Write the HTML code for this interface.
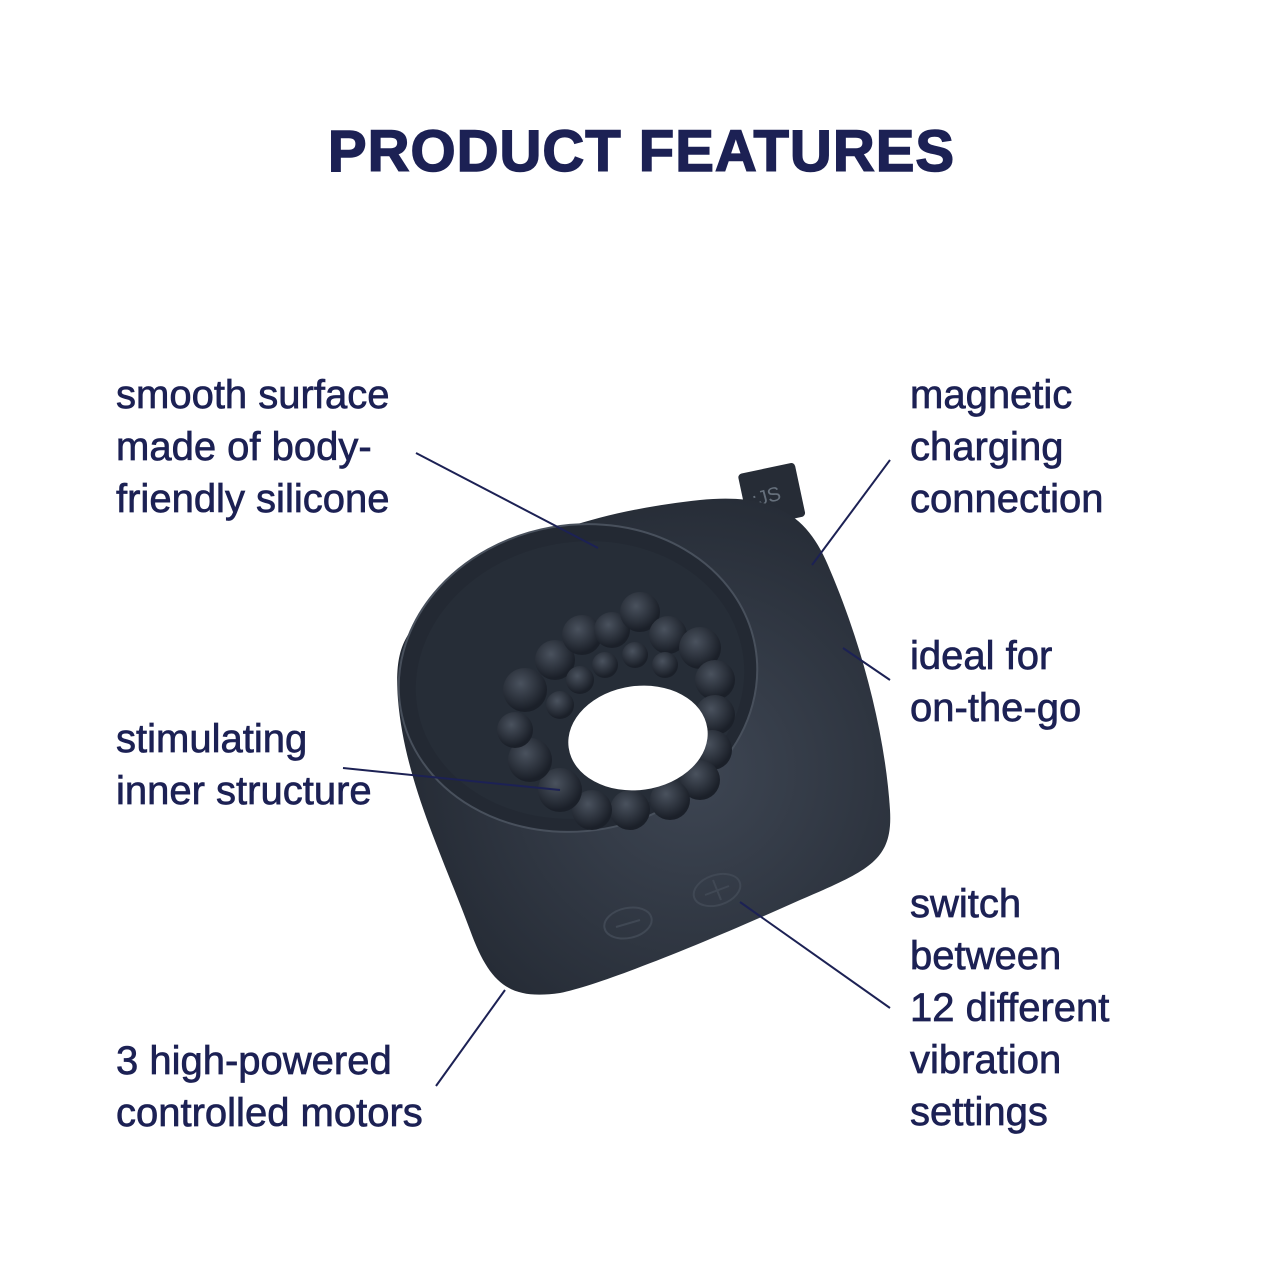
<!DOCTYPE html>
<html><head><meta charset="utf-8"><style>
html,body{margin:0;padding:0;background:#fff}
body{width:1276px;height:1276px;position:relative;overflow:hidden;font-family:"Liberation Sans",sans-serif;color:#1c2154}
h1{position:absolute;left:0;width:1283px;top:118px;margin:0;text-align:center;font-size:58px;font-weight:bold;letter-spacing:1px;-webkit-text-stroke:1.5px #1c2154}
.t{position:absolute;font-size:40px;line-height:52px;white-space:nowrap;-webkit-text-stroke:0.7px #1c2154}
svg{position:absolute;left:0;top:0}
</style></head><body>
<h1>PRODUCT FEATURES</h1>
<svg width="1276" height="1276">
<defs>
<radialGradient id="g" cx="0.6" cy="0.55" r="0.6"><stop offset="0" stop-color="#3e4653"/><stop offset="1" stop-color="#252b35"/></radialGradient>
<radialGradient id="b" cx="0.4" cy="0.35" r="0.6"><stop offset="0" stop-color="#4a525e"/><stop offset="1" stop-color="#1b2029"/></radialGradient>
</defs>
<g transform="rotate(-12 770 492)"><rect x="742" y="468" width="58" height="55" rx="4" fill="#262c36"/></g>
<text x="752" y="505" font-size="20" fill="#66707c" transform="rotate(-15 760 498)">:JS</text>
<path d="M420,620 C470,560 560,515 700,500 C780,492 810,520 830,570 C860,640 885,730 890,810 C893,860 870,870 800,900 C700,945 600,985 560,993 C510,1000 490,985 470,930 C440,850 405,780 398,700 C395,660 400,640 420,620 Z" fill="url(#g)"/>
<ellipse cx="578" cy="678" rx="180" ry="153" transform="rotate(-10 578 678)" fill="#232933" stroke="#48505c" stroke-width="2"/>
<ellipse cx="580" cy="680" rx="165" ry="138" transform="rotate(-10 580 680)" fill="#262d37"/>
<g fill="url(#b)">
<circle cx="525" cy="690" r="22"/><circle cx="555" cy="660" r="20"/><circle cx="582" cy="635" r="20"/><circle cx="612" cy="630" r="18"/><circle cx="640" cy="612" r="20"/><circle cx="668" cy="635" r="19"/><circle cx="700" cy="648" r="21"/><circle cx="715" cy="680" r="20"/><circle cx="715" cy="715" r="20"/><circle cx="712" cy="750" r="20"/><circle cx="700" cy="780" r="20"/><circle cx="670" cy="800" r="20"/><circle cx="630" cy="810" r="20"/><circle cx="592" cy="810" r="20"/><circle cx="560" cy="790" r="22"/><circle cx="530" cy="760" r="22"/><circle cx="515" cy="730" r="18"/><circle cx="560" cy="705" r="14"/><circle cx="580" cy="680" r="14"/><circle cx="605" cy="665" r="13"/><circle cx="635" cy="655" r="13"/><circle cx="665" cy="665" r="13"/>
</g>
<ellipse cx="638" cy="738" rx="70" ry="52" transform="rotate(-8 638 738)" fill="#fff"/>
<ellipse cx="628" cy="923" rx="24" ry="15" transform="rotate(-12 628 923)" fill="none" stroke="#404854" stroke-width="2"/>
<line x1="616" y1="927" x2="640" y2="920" stroke="#404854" stroke-width="2"/>
<ellipse cx="717" cy="890" rx="24" ry="15" transform="rotate(-18 717 890)" fill="none" stroke="#404854" stroke-width="2"/>
<line x1="705" y1="895" x2="729" y2="886" stroke="#404854" stroke-width="2"/><line x1="713" y1="880" x2="721" y2="900" stroke="#404854" stroke-width="2"/>
<g stroke="#1c2154" stroke-width="2">
<line x1="416" y1="453" x2="598" y2="548"/>
<line x1="890" y1="460" x2="812" y2="565"/>
<line x1="843" y1="648" x2="890" y2="680"/>
<line x1="343" y1="768" x2="560" y2="790"/>
<line x1="436" y1="1086" x2="505" y2="990"/>
<line x1="740" y1="902" x2="890" y2="1008"/>
</g>
</svg>
<div class="t" style="left:116px;top:369px">smooth surface<br>made of body-<br>friendly silicone</div>
<div class="t" style="left:116px;top:713px">stimulating<br>inner structure</div>
<div class="t" style="left:116px;top:1035px">3 high-powered<br>controlled motors</div>
<div class="t" style="left:910px;top:369px">magnetic<br>charging<br>connection</div>
<div class="t" style="left:910px;top:630px">ideal for<br>on-the-go</div>
<div class="t" style="left:910px;top:878px">switch<br>between<br>12 different<br>vibration<br>settings</div>
</body></html>
